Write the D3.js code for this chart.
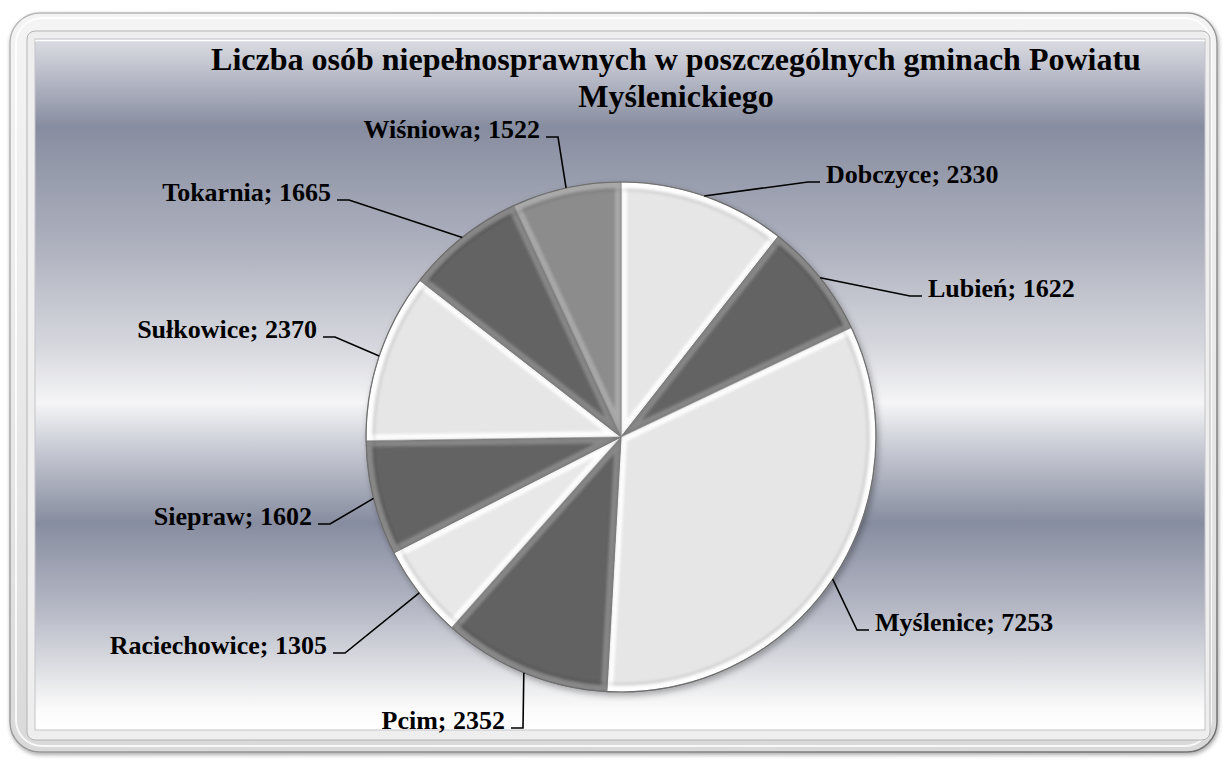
<!DOCTYPE html>
<html>
<head>
<meta charset="utf-8">
<script src="https://cdn.jsdelivr.net/npm/d3@7/dist/d3.min.js"></script>
<style>
  html, body { margin: 0; padding: 0; background: #ffffff; }
  svg { display: block; }
</style>
</head>
<body>
<svg id="chart" width="1223" height="760"></svg>
<script>
// ---- data ----
const categories = ["Dobczyce", "Lubień", "Myślenice", "Pcim", "Raciechowice", "Siepraw", "Sułkowice", "Tokarnia", "Wiśniowa"];
const values = [2330, 1622, 7253, 2352, 1305, 1602, 2370, 1665, 1522];
const titleLines = ["Liczba osób niepełnosprawnych w poszczególnych gminach Powiatu", "Myślenickiego"];

// ---- styles / layout ----
const sliceColors = ["#e6e6e6", "#646464", "#e6e6e6", "#626262", "#e8e8e8", "#646464", "#e6e6e6", "#646464", "#8c8c8c"];
const sliceHighlights = ["#ffffff", "#8a8a8a", "#ffffff", "#8a8a8a", "#ffffff", "#8a8a8a", "#ffffff", "#8a8a8a", "#ababab"];
const labelElbows = [[808, 182], [910, 296], [857, 630], [523, 728], [345, 653], [330, 524], [335, 337], [349, 200], [558, 137]];

const W = 1223, H = 760;
const cx = 621, cy = 437, R = 255;
const serif = "'Liberation Serif', 'DejaVu Serif', serif";

const svg = d3.select("#chart");
const defs = svg.append("defs");

// frame gradient
const fg = defs.append("linearGradient").attr("id", "frameGrad").attr("x1", 0).attr("y1", 0).attr("x2", 0).attr("y2", 1);
[[0, "#f4f4f4"], [0.5, "#e9e9e9"], [1, "#d9d9d9"]].forEach(s => fg.append("stop").attr("offset", s[0]).attr("stop-color", s[1]));

const fe = defs.append("linearGradient").attr("id", "frameEdge").attr("x1", 0).attr("y1", 0).attr("x2", 1).attr("y2", 1);
[[0, "#b8b8b8"], [0.5, "#9a9a9a"], [1, "#707070"]].forEach(s => fe.append("stop").attr("offset", s[0]).attr("stop-color", s[1]));

// background gradient
const bg = defs.append("linearGradient").attr("id", "bgGrad").attr("x1", 0).attr("y1", 0).attr("x2", 0).attr("y2", 1);
[[0, "#dcdde3"], [0.06, "#b4b7c4"], [0.127, "#878da0"], [0.3, "#aeb1be"], [0.45, "#d8d9df"], [0.527, "#f5f5f7"],
 [0.6, "#c3c6d0"], [0.70, "#878da0"], [0.82, "#b3b6c3"], [0.92, "#e2e3e7"], [0.97, "#fbfbfb"], [1, "#ffffff"]]
  .forEach(s => bg.append("stop").attr("offset", s[0]).attr("stop-color", s[1]));

// filters
const blur = defs.append("filter").attr("id", "softBlur").attr("x", "-20%").attr("y", "-20%").attr("width", "140%").attr("height", "140%");
blur.append("feGaussianBlur").attr("stdDeviation", 1.8);

const shadow = defs.append("filter").attr("id", "pieShadow").attr("x", "-20%").attr("y", "-20%").attr("width", "140%").attr("height", "140%");
shadow.append("feDropShadow").attr("dx", 2).attr("dy", 3).attr("stdDeviation", 3).attr("flood-color", "#000").attr("flood-opacity", 0.3);

const frameShadow = defs.append("filter").attr("id", "frameShadow").attr("x", "-5%").attr("y", "-5%").attr("width", "110%").attr("height", "110%");
frameShadow.append("feDropShadow").attr("dx", 1).attr("dy", 2).attr("stdDeviation", 2).attr("flood-color", "#000").attr("flood-opacity", 0.35);

// ---- frame ----
svg.append("rect")
  .attr("x", 10).attr("y", 13).attr("width", 1207).attr("height", 739).attr("rx", 30).attr("ry", 30)
  .attr("fill", "url(#frameGrad)").attr("stroke", "url(#frameEdge)").attr("stroke-width", 1.5)
  .attr("filter", "url(#frameShadow)");
svg.append("rect")
  .attr("x", 16).attr("y", 18).attr("width", 1195).attr("height", 728).attr("rx", 26).attr("ry", 26)
  .attr("fill", "none").attr("stroke", "#ffffff").attr("stroke-width", 2).attr("opacity", 0.8);
svg.append("rect")
  .attr("x", 27).attr("y", 31).attr("width", 1183).attr("height", 709).attr("rx", 8).attr("ry", 8)
  .attr("fill", "#eeeeee").attr("stroke", "#b4b4b4").attr("stroke-width", 1);

// plot area
svg.append("rect")
  .attr("x", 35).attr("y", 39).attr("width", 1170).attr("height", 691)
  .attr("fill", "url(#bgGrad)").attr("stroke", "#c4c4c8").attr("stroke-width", 1);
svg.append("line").attr("x1", 35).attr("x2", 1205).attr("y1", 40.5).attr("y2", 40.5)
  .attr("stroke", "#ffffff").attr("stroke-width", 1.5);

// ---- title ----
const title = svg.append("text")
  .attr("x", 676).attr("y", 70)
  .attr("text-anchor", "middle")
  .style("font-family", serif).attr("font-weight", "bold").attr("font-size", 32).attr("fill", "#000");
titleLines.forEach((t, i) => {
  title.append("tspan").attr("x", 676).attr("dy", i === 0 ? 0 : 37).text(t);
});

// ---- pie ----
const pie = d3.pie().sort(null).value(d => d).startAngle(0).endAngle(2 * Math.PI);
const arcs = pie(values);
const arc = d3.arc().innerRadius(0).outerRadius(R);
const innerArc = d3.arc().innerRadius(0).outerRadius(R - 8);

const g = svg.append("g").attr("transform", `translate(${cx},${cy})`);
const pieG = g.append("g").attr("filter", "url(#pieShadow)");

arcs.forEach((a, i) => {
  const clipId = "clip" + i;
  defs.append("clipPath").attr("id", clipId)
    .append("path").attr("d", arc(a));
  const sg = pieG.append("g");
  sg.append("path").attr("d", arc(a)).attr("fill", sliceColors[i]);
  // bevel highlight
  const hg = sg.append("g").attr("clip-path", `url(#${clipId})`);
  hg.append("path").attr("d", arc(a))
    .attr("fill", "none").attr("stroke", sliceHighlights[i]).attr("stroke-width", 12)
    .attr("stroke-linejoin", "miter").attr("filter", "url(#softBlur)").attr("opacity", 0.95);
  // inner shading line for bevel depth
  hg.append("path").attr("d", innerArc(a))
    .attr("fill", "none").attr("stroke", "#000").attr("stroke-opacity", 0.14).attr("stroke-width", 1.6)
    .attr("filter", "url(#softBlur)");
  sg.append("path").attr("d", arc(a)).attr("fill", "none")
    .attr("stroke", "#7a7a7a").attr("stroke-width", 0.6);
});
// outer outline
pieG.append("circle").attr("r", R).attr("fill", "none").attr("stroke", "#6e6e6e").attr("stroke-width", 1.2);

// ---- labels with leader lines ----
const labelsG = svg.append("g");
arcs.forEach((a, i) => {
  const mid = (a.startAngle + a.endAngle) / 2;
  const sx = cx + R * Math.sin(mid), sy = cy - R * Math.cos(mid);
  const [ex, ey] = labelElbows[i];
  const right = ex > cx;
  const stubEnd = right ? ex + 12 : ex - 12;
  labelsG.append("path")
    .attr("d", d3.line()([[sx, sy], [ex, ey], [stubEnd, ey]]))
    .attr("fill", "none").attr("stroke", "#000").attr("stroke-width", 1.6);
  labelsG.append("text")
    .attr("x", right ? stubEnd + 6 : stubEnd - 6).attr("y", ey + 1)
    .attr("text-anchor", right ? "start" : "end")
    .style("font-family", serif).attr("font-weight", "bold").attr("font-size", 26).attr("fill", "#000")
    .text(`${categories[i]}; ${values[i]}`);
});
</script>
</body>
</html>
